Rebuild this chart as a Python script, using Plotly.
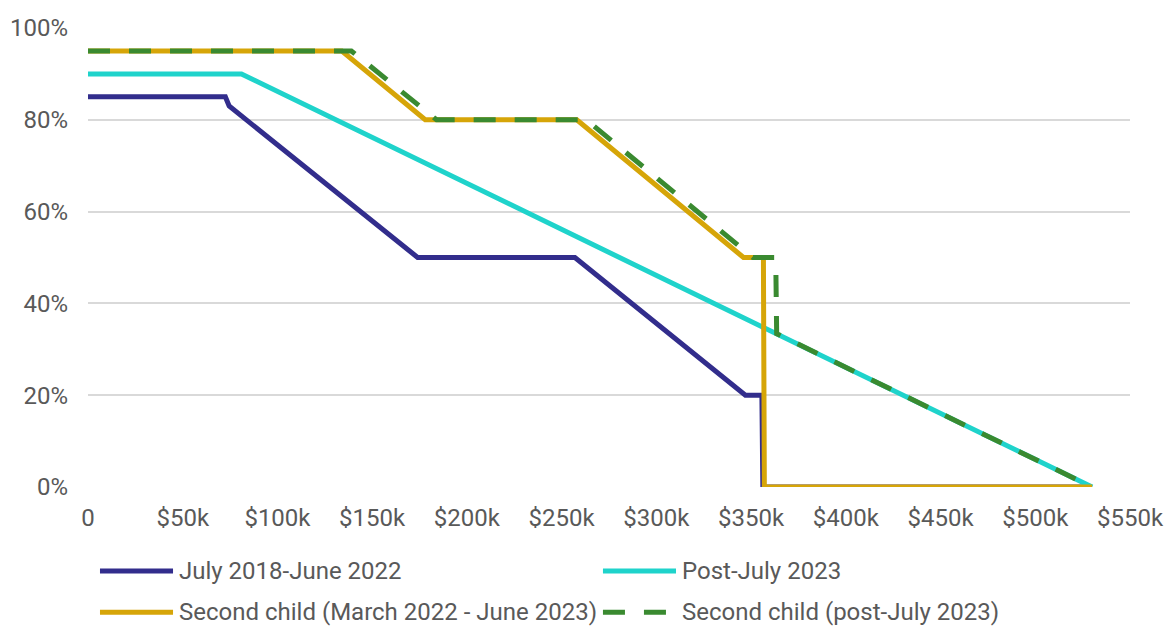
import plotly.graph_objects as go

# ---- data (income in dollars, subsidy rate as fraction) ----
series_names = [
    "July 2018-June 2022",
    "Post-July 2023",
    "Second child (March 2022 - June 2023)",
    "Second child (post-July 2023)",
]

navy_x = [0, 72500, 74500, 174000, 257000, 347000, 355700, 356200, 530000]
navy_y = [0.85, 0.85, 0.83, 0.50, 0.50, 0.20, 0.20, 0.0, 0.0]

cyan_x = [0, 81000, 530000]
cyan_y = [0.90, 0.90, 0.0]

gold_x = [0, 134000, 178000, 258000, 346000, 356500, 357000, 530000]
gold_y = [0.95, 0.95, 0.80, 0.80, 0.50, 0.50, 0.0, 0.0]

green_x = [0, 139000, 184000, 263000, 351000, 363000, 363500, 530000]
green_y = [0.95, 0.95, 0.80, 0.80, 0.50, 0.50, 0.334, 0.0]

x_tickvals = [0, 50000, 100000, 150000, 200000, 250000, 300000, 350000, 400000, 450000, 500000, 550000]
x_ticktext = ["0", "$50k", "$100k", "$150k", "$200k", "$250k", "$300k", "$350k", "$400k", "$450k", "$500k", "$550k"]
y_tickvals = [0, 0.2, 0.4, 0.6, 0.8, 1.0]
y_ticktext = ["0%", "20%", "40%", "60%", "80%", "100%"]

colors = ["#322d8c", "#1fd3cb", "#d6a508", "#3a8a30"]
dashes = ["solid", "solid", "solid", "22px,19px"]

FONT = "Roboto"
TXT = "#595959"

fig = go.Figure()
for name, xs, ys, c, d in zip(series_names,
                              [navy_x, cyan_x, gold_x, green_x],
                              [navy_y, cyan_y, gold_y, green_y],
                              colors, dashes):
    fig.add_trace(go.Scatter(x=xs, y=ys, mode="lines", name=name,
                             line=dict(color=c, width=5, dash=d),
                             showlegend=False, hoverinfo="skip"))

# manual legend (two rows, two columns)
leg_pos = [(0.0115, -0.183), (0.4942, -0.183), (0.0115, -0.273), (0.4942, -0.273)]
for (lx, ly), name, c, d in zip(leg_pos, series_names, colors, dashes):
    fig.add_shape(type="line", xref="paper", yref="paper",
                  x0=lx, x1=lx + 0.0701, y0=ly, y1=ly,
                  line=dict(color=c, width=5, dash=d))
    fig.add_annotation(xref="paper", yref="paper", x=lx + 0.0735, y=ly,
                       text=name, showarrow=False, xanchor="left", yanchor="middle",
                       font=dict(family=FONT, size=24, color=TXT))

fig.update_layout(
    width=1164, height=626,
    margin=dict(l=88, r=34, t=28, b=139),
    paper_bgcolor="white", plot_bgcolor="white",
    font=dict(family=FONT, size=24, color=TXT),
)
fig.update_xaxes(range=[0, 550000], tickvals=x_tickvals, ticktext=x_ticktext,
                 showgrid=False, zeroline=False, showline=False, automargin=False,
                 ticks="", ticklabelstandoff=14,
                 tickfont=dict(family=FONT, size=24, color=TXT))
fig.update_yaxes(range=[0, 1.0], tickvals=y_tickvals, ticktext=y_ticktext,
                 showgrid=True, gridcolor="#d9d9d9", gridwidth=1.5, automargin=False,
                 zeroline=False, showline=False, ticks="", ticklabelstandoff=19,
                 tickfont=dict(family=FONT, size=24, color=TXT))

fig.write_html(
    "out.html",
    config={"displayModeBar": False},
    post_script="document.body.style.margin='0';document.body.style.overflow='hidden';",
)
